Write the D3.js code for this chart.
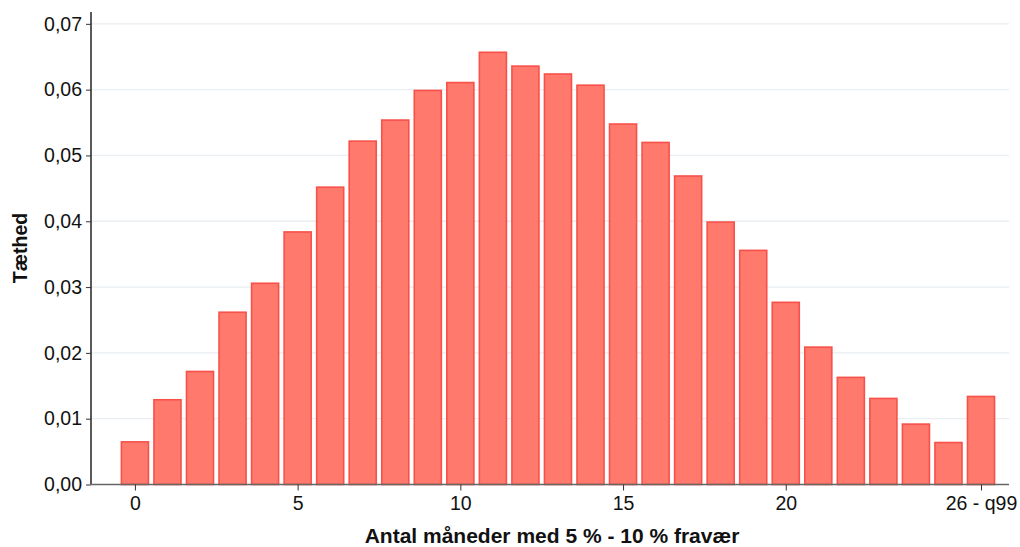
<!DOCTYPE html>
<html>
<head>
<meta charset="utf-8">
<script src="https://cdn.jsdelivr.net/npm/d3@7"></script>
<style>
  html, body { margin: 0; padding: 0; background: #fff; }
  svg { display: block; font-family: "Liberation Sans", Arial, sans-serif; }
</style>
</head>
<body>
<svg id="chart" width="1020" height="547"></svg>
<script>
// Data
const categories = [0,1,2,3,4,5,6,7,8,9,10,11,12,13,14,15,16,17,18,19,20,21,22,23,24,25,26];
const density = [0.0066,0.0130,0.0173,0.0263,0.0307,0.0385,0.0453,0.0523,0.0555,0.0600,0.0612,0.0658,0.0637,0.0625,0.0608,0.0549,0.0521,0.0470,0.0400,0.0357,0.0278,0.0210,0.0164,0.0132,0.0093,0.0065,0.0135];
const xTickValues = [0,5,10,15,20,26];
const xTickLabels = ["0","5","10","15","20","26 - q99"];
const yTickValues = [0,0.01,0.02,0.03,0.04,0.05,0.06,0.07];
const xTitle = "Antal måneder med 5 % - 10 % fravær";
const yTitle = "Tæthed";

const svg = d3.select("#chart");
const mLeft = 91, mRight = 1009, mTop = 12, mBottom = 484.5;

const x = d3.scaleLinear().domain([-1.35, 26.86]).range([mLeft, mRight]);
const y = d3.scaleLinear().domain([0, 0.0718]).range([mBottom, mTop]);
const step = x(1) - x(0);
const bw = step * 0.88;

const locale = d3.formatLocale({decimal: ",", thousands: ".", grouping: [3], currency: ["", " kr."]});
const fmt = locale.format(".2f");

// gridlines
svg.append("g").selectAll("line").data(yTickValues.slice(1)).join("line")
  .attr("x1", mLeft).attr("x2", mRight)
  .attr("y1", d => y(d)).attr("y2", d => y(d))
  .attr("stroke", "#E8EEF1").attr("stroke-width", 1.3);

// bars
const data = categories.map((c, i) => ({c, v: density[i]}));
svg.append("g").selectAll("rect").data(data).join("rect")
  .attr("x", d => x(d.c) - bw / 2 + 0.8)
  .attr("width", bw - 1.6)
  .attr("y", d => y(d.v) + 0.8)
  .attr("height", d => y(0) - y(d.v) - 0.8)
  .attr("fill", "#FF796C")
  .attr("stroke", "#F7514A")
  .attr("stroke-width", 1.6);

// y axis
const yAxis = d3.axisLeft(y).tickValues(yTickValues).tickFormat(fmt).tickSize(5).tickPadding(4);
const gy = svg.append("g").attr("transform", `translate(${mLeft},0)`).call(yAxis);
gy.select(".domain").attr("d", `M0,${mTop}V${mBottom}`).attr("stroke", "#000").attr("stroke-width", 1.3);
gy.selectAll(".tick line").attr("stroke", "#333");
gy.selectAll(".tick text").attr("font-size", 19.5).attr("fill", "#111")
  .attr("font-family", "Liberation Sans, Arial, sans-serif");

// x axis
const xAxis = d3.axisBottom(x).tickValues(xTickValues)
  .tickFormat((d, i) => xTickLabels[i]).tickSize(6).tickPadding(6);
const gx = svg.append("g").attr("transform", `translate(0,${mBottom})`).call(xAxis);
gx.select(".domain").attr("d", `M${mLeft},0H${mRight}`).attr("stroke", "#666").attr("stroke-width", 1.5);
gx.selectAll(".tick line").attr("stroke", "#333");
gx.selectAll(".tick text").attr("font-size", 19.5).attr("fill", "#111")
  .attr("font-family", "Liberation Sans, Arial, sans-serif");

// titles
svg.append("text").attr("x", 552).attr("y", 543)
  .attr("text-anchor", "middle").attr("font-weight", "bold").attr("font-size", 21)
  .attr("fill", "#111").text(xTitle);
svg.append("text").attr("transform", "translate(26.5,248) rotate(-90)")
  .attr("text-anchor", "middle").attr("font-weight", "bold").attr("font-size", 19.5)
  .attr("fill", "#111").text(yTitle);
</script>
</body>
</html>
